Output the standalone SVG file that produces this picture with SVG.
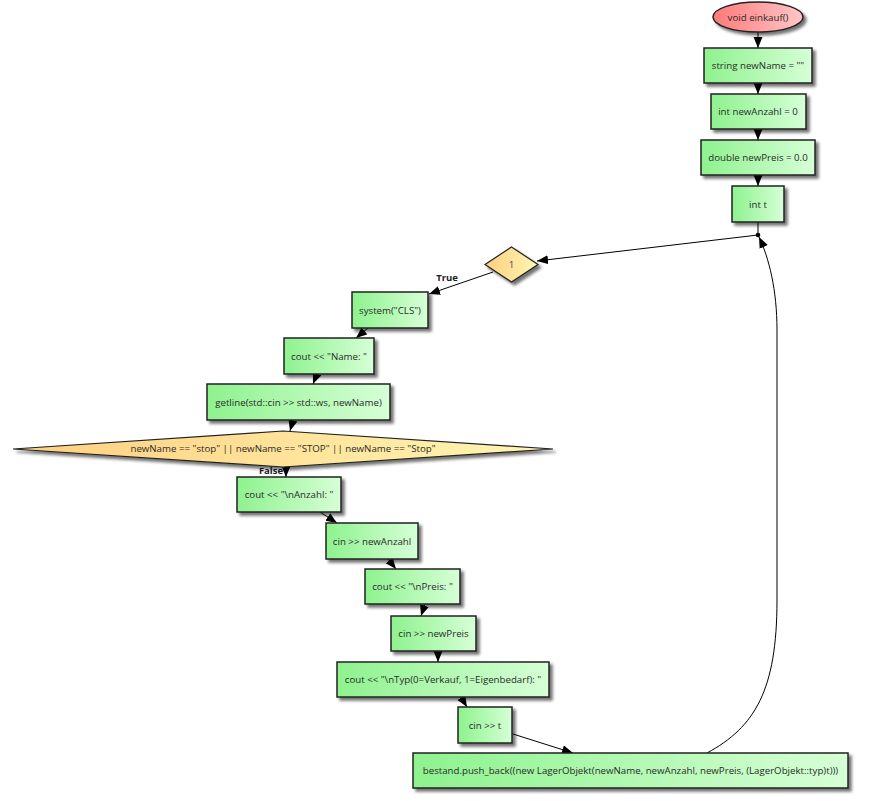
<svg xmlns="http://www.w3.org/2000/svg" width="888" height="801" viewBox="0 0 888 801">
<defs>
<linearGradient id="gGreen" x1="0" y1="0" x2="1" y2="0"><stop offset="0" stop-color="#8ef28e"/><stop offset="1" stop-color="#d6ffd6"/></linearGradient>
<linearGradient id="gRed" x1="0" y1="0" x2="1" y2="0"><stop offset="0" stop-color="#ff7a7a"/><stop offset="1" stop-color="#ffc6c6"/></linearGradient>
<linearGradient id="gYel" x1="0" y1="0" x2="1" y2="0"><stop offset="0" stop-color="#ffcf80"/><stop offset="1" stop-color="#fff6b4"/></linearGradient>
<filter id="sh" x="-20%" y="-20%" width="140%" height="160%"><feDropShadow dx="3" dy="3" stdDeviation="1.6" flood-color="#000" flood-opacity="0.55"/></filter>
<marker id="arr" markerUnits="userSpaceOnUse" markerWidth="12" markerHeight="10" refX="11" refY="4.5" orient="auto"><path d="M0,0 L11,4.5 L0,9 z" fill="#000"/></marker>
</defs>
<style>
.box{fill:url(#gGreen);stroke:#222;stroke-width:1.5;filter:url(#sh)}
.dia{fill:url(#gYel);stroke:#222;stroke-width:1.2;filter:url(#sh)}
.t{font-family:"Open Sans","DejaVu Sans",sans-serif;font-size:9.7px;fill:#2a2a2a;text-anchor:middle;dominant-baseline:central}
.lbl{font-family:"Open Sans","DejaVu Sans",sans-serif;font-size:9.5px;font-weight:bold;fill:#1a1a2a;text-anchor:middle;dominant-baseline:central}
.e{fill:none;stroke:#000;stroke-width:1;marker-end:url(#arr)}
</style>
<rect width="888" height="801" fill="#fff"/>
<g id="connectors">
<line class="e" x1="758" y1="32" x2="758" y2="48"/>
<line class="e" x1="758" y1="83" x2="758" y2="94"/>
<line class="e" x1="758" y1="129" x2="758" y2="140"/>
<line class="e" x1="758" y1="175" x2="758" y2="186"/>
<line x1="758" y1="222" x2="758" y2="235" stroke="#000" stroke-width="1"/>
<circle cx="758" cy="235" r="2.3" fill="#000"/>
<line class="e" x1="758" y1="235" x2="537" y2="261"/>
<line class="e" x1="493" y1="272" x2="429" y2="294"/>
<line class="e" x1="368" y1="328" x2="356" y2="338"/>
<line class="e" x1="317" y1="374" x2="313" y2="384"/>
<line class="e" x1="293" y1="420" x2="290" y2="431"/>
<line class="e" x1="286" y1="466" x2="286" y2="477"/>
<line class="e" x1="320" y1="512" x2="337" y2="523"/>
<line class="e" x1="388" y1="559" x2="396" y2="569"/>
<line class="e" x1="425" y1="604" x2="421" y2="616"/>
<line class="e" x1="438" y1="651" x2="438" y2="662"/>
<line class="e" x1="461" y1="697" x2="467" y2="707"/>
<line class="e" x1="513" y1="734" x2="573" y2="753"/>
<path class="e" d="M707,753 C755,727 777,690 777,600 L777,330 C777,290 769,258 759,237"/>
<text class="lbl" x="447" y="277">True</text>
<text class="lbl" x="271" y="470">False</text>
</g>
<g id="n_start"><ellipse cx="758" cy="17" rx="45" ry="15" fill="url(#gRed)" stroke="#222" stroke-width="1.5" filter="url(#sh)"/><text class="t" x="758" y="17">void einkauf()</text></g>
<g id="n_newName"><rect class="box" x="704" y="48" width="108" height="35"/><text class="t" x="758" y="65.5">string newName = ""</text></g>
<g id="n_newAnzahl"><rect class="box" x="711" y="94" width="95" height="35"/><text class="t" x="758" y="111.5">int newAnzahl = 0</text></g>
<g id="n_newPreis"><rect class="box" x="701" y="140" width="114" height="35"/><text class="t" x="758" y="157.5">double newPreis = 0.0</text></g>
<g id="n_t"><rect class="box" x="732" y="186" width="52" height="36"/><text class="t" x="758" y="204">int t</text></g>
<g id="n_loop"><polygon class="dia" points="511.5,247 538,264.5 511.5,282 485,264.5"/><text class="t" x="511.5" y="264.5" style="fill:#5a3a5a">1</text></g>
<g id="n_cls"><rect class="box" x="352" y="292" width="76" height="36"/><text class="t" x="390" y="310">system("CLS")</text></g>
<g id="n_coutName"><rect class="box" x="284" y="338" width="90" height="36"/><text class="t" x="329" y="356">cout &lt;&lt; "Name: "</text></g>
<g id="n_getline"><rect class="box" x="207" y="384" width="183" height="36"/><text class="t" x="298.5" y="402">getline(std::cin &gt;&gt; std::ws, newName)</text></g>
<g id="n_stop"><polygon class="dia" points="283,431 553,449 283,467 13,449"/><text class="t" x="283" y="448">newName == "stop" || newName == "STOP" || newName == "Stop"</text></g>
<g id="n_coutAnzahl"><rect class="box" x="237" y="477" width="104" height="35"/><text class="t" x="289" y="494.5">cout &lt;&lt; "\nAnzahl: "</text></g>
<g id="n_cinAnzahl"><rect class="box" x="326" y="523" width="92" height="36"/><text class="t" x="372" y="541">cin &gt;&gt; newAnzahl</text></g>
<g id="n_coutPreis"><rect class="box" x="365" y="569" width="95" height="35"/><text class="t" x="412.5" y="586.5">cout &lt;&lt; "\nPreis: "</text></g>
<g id="n_cinPreis"><rect class="box" x="391" y="616" width="85" height="35"/><text class="t" x="433.5" y="633.5">cin &gt;&gt; newPreis</text></g>
<g id="n_coutTyp"><rect class="box" x="337" y="662" width="212" height="35"/><text class="t" x="443" y="679.5">cout &lt;&lt; "\nTyp(0=Verkauf, 1=Eigenbedarf): "</text></g>
<g id="n_cinT"><rect class="box" x="458" y="707" width="54" height="36"/><text class="t" x="485" y="725">cin &gt;&gt; t</text></g>
<g id="n_push"><rect class="box" x="413" y="753" width="435" height="35"/><text class="t" x="630.5" y="770.5">bestand.push_back((new LagerObjekt(newName, newAnzahl, newPreis, (LagerObjekt::typ)t)))</text></g>
</svg>
